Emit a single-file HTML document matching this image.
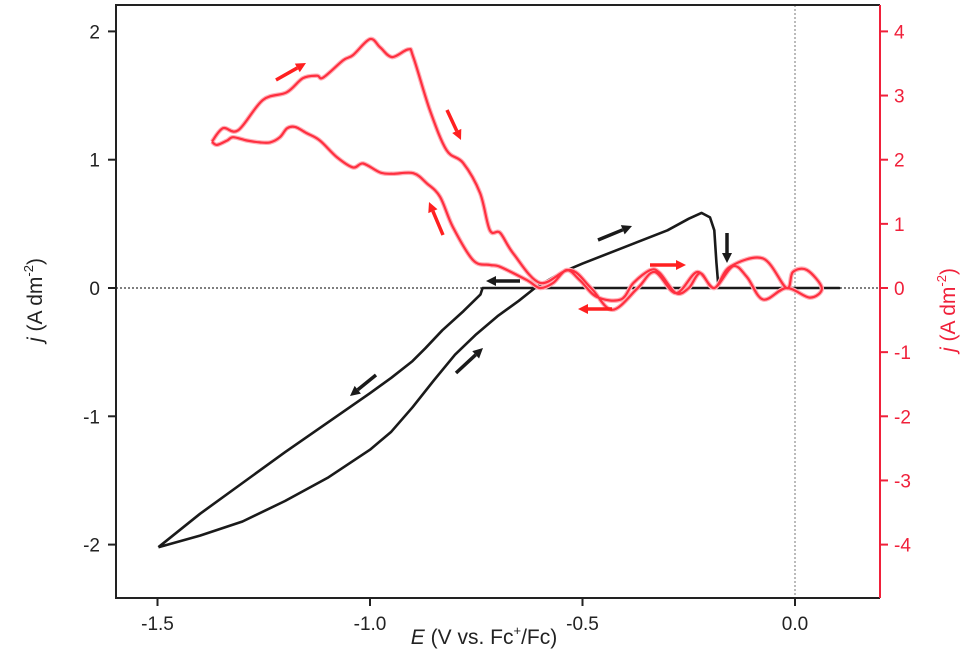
<!DOCTYPE html>
<html><head><meta charset="utf-8"><style>
body{margin:0;background:#fff;}
svg{display:block;font-family:"Liberation Sans",Arial,sans-serif;}
</style></head><body>
<svg id="chart" width="968" height="666" viewBox="0 0 968 666">
<g id="axes"></g>
<g id="plot"></g>
<g id="ann"></g>
</svg>
<script>
const xTicks=[-1.5,-1.0,-0.5,0.0];
const xTickLabels=["-1.5","-1.0","-0.5","0.0"];
const yTicks=[-2,-1,0,1,2];
const yTickLabels=["-2","-1","0","1","2"];
const y2Ticks=[-4,-3,-2,-1,0,1,2,3,4];
const y2TickLabels=["-4","-3","-2","-1","0","1","2","3","4"];
const blackE=[-1.498,-1.40,-1.30,-1.20,-1.10,-1.0,-0.95,-0.90,-0.85,-0.80,-0.75,-0.70,-0.65,-0.612,-0.55,-0.5,-0.4,-0.3,-0.25,-0.22,-0.20,-0.19,-0.185,-0.18,0.104,-0.735,-0.74,-0.78,-0.83,-0.87,-0.90,-0.95,-1.0,-1.1,-1.2,-1.3,-1.4,-1.498];
const blackJ=[-2.02,-1.93,-1.82,-1.66,-1.48,-1.26,-1.12,-0.93,-0.72,-0.52,-0.36,-0.22,-0.10,0,0.12,0.19,0.32,0.45,0.54,0.585,0.55,0.45,0.2,0,0,0,-0.05,-0.18,-0.33,-0.47,-0.57,-0.70,-0.82,-1.05,-1.28,-1.52,-1.76,-2.02];
const redE=[-1.372,-1.346,-1.31,-1.252,-1.196,-1.158,-1.125,-1.11,-1.063,-1.04,-1.0,-0.976,-0.948,-0.91,-0.898,-0.859,-0.82,-0.781,-0.741,-0.718,-0.694,-0.663,-0.6,-0.53,-0.48,-0.43,-0.37,-0.33,-0.28,-0.23,-0.19,-0.153,-0.075,-0.02,-0.005,0.028,0.063,0.035,-0.02,-0.075,-0.113,-0.146,-0.19,-0.223,-0.25,-0.28,-0.318,-0.34,-0.38,-0.41,-0.466,-0.506,-0.537,-0.569,-0.6,-0.63,-0.694,-0.718,-0.757,-0.805,-0.835,-0.866,-0.898,-0.946,-0.976,-1.016,-1.04,-1.078,-1.118,-1.148,-1.176,-1.195,-1.212,-1.235,-1.259,-1.29,-1.322,-1.336,-1.36,-1.372];
const redJ=[2.28,2.49,2.46,2.93,3.05,3.27,3.31,3.28,3.55,3.63,3.88,3.75,3.6,3.72,3.6,2.77,2.15,1.95,1.48,0.9,0.86,0.54,0.08,0.28,0,-0.34,0,0.25,-0.08,0.25,0,0.33,0.46,0,0.25,0.28,0,-0.15,0,-0.18,0.17,0.34,0,0.23,0,-0.08,0.23,0.28,0.08,-0.18,-0.14,0.12,0.28,0.08,0,0.12,0.33,0.36,0.43,0.95,1.42,1.63,1.79,1.78,1.8,1.94,1.88,2.04,2.3,2.41,2.51,2.49,2.35,2.27,2.27,2.3,2.35,2.3,2.23,2.28];

const L=116,R=880,T=5,B=598;
const xs=e=>795+e*425;
const ys=j=>288-j*128.3;
const ys2=j=>288-j*64.15;
const NS="http://www.w3.org/2000/svg";
function mk(tag,attrs,parent){const el=document.createElementNS(NS,tag);for(const k in attrs)el.setAttribute(k,attrs[k]);parent.appendChild(el);return el;}
function smooth(pts){let d='M'+pts[0][0].toFixed(1)+','+pts[0][1].toFixed(1);
 for(let i=0;i<pts.length-1;i++){const p0=pts[Math.max(i-1,0)],p1=pts[i],p2=pts[i+1],p3=pts[Math.min(i+2,pts.length-1)];
 const c1=[p1[0]+(p2[0]-p0[0])/6,p1[1]+(p2[1]-p0[1])/6],c2=[p2[0]-(p3[0]-p1[0])/6,p2[1]-(p3[1]-p1[1])/6];
 d+=`C${c1[0].toFixed(1)},${c1[1].toFixed(1)} ${c2[0].toFixed(1)},${c2[1].toFixed(1)} ${p2[0].toFixed(1)},${p2[1].toFixed(1)}`;}
 return d;}
const axes=document.getElementById('axes'),plot=document.getElementById('plot'),ann=document.getElementById('ann');

let el;
el=mk('line',{x1:L,y1:ys(0),x2:R,y2:ys(0),stroke:'#333','stroke-width':1.2,'stroke-dasharray':'2,2'},axes);


el=mk('line',{x1:xs(0),y1:T,x2:xs(0),y2:B,stroke:'#777','stroke-width':1,'stroke-dasharray':'2,2'},axes);


el=mk('path',{d:`M${R},${T}H${L}V${B}H${R}`,fill:'none',stroke:'#222','stroke-width':2},axes);


el=mk('line',{x1:R,y1:T,x2:R,y2:B,stroke:'#f0203a','stroke-width':2},axes);



xTicks.forEach((v,i)=>{
 el=mk('line',{x1:xs(v),y1:B,x2:xs(v),y2:B+8,stroke:'#222','stroke-width':2},axes);
 
 
 el=mk('text',{x:xs(v),y:B+32,'text-anchor':'middle','font-size':19,fill:'#222'},axes);
 el.textContent=xTickLabels[i];
 
 
});
yTicks.forEach((v,i)=>{
 el=mk('line',{x1:L-8,y1:ys(v),x2:L,y2:ys(v),stroke:'#222','stroke-width':2},axes);
 
 
 el=mk('text',{x:L-16,y:ys(v)+7,'text-anchor':'end','font-size':19,fill:'#222'},axes);
 el.textContent=yTickLabels[i];
 
 
});
y2Ticks.forEach((v,i)=>{
 el=mk('line',{x1:R,y1:ys2(v),x2:R+8,y2:ys2(v),stroke:'#f0203a','stroke-width':2},axes);
 
 
 el=mk('text',{x:R+14,y:ys2(v)+7,'text-anchor':'start','font-size':19,fill:'#f0203a'},axes);
 el.textContent=y2TickLabels[i];
 
 
});

el=mk('text',{x:484,y:644,'text-anchor':'middle','font-size':21,fill:'#222'},axes);
el.innerHTML='<tspan font-style="italic">E</tspan> (V vs. Fc<tspan font-size="13" dy="-9">+</tspan><tspan dy="9">/Fc)</tspan>';


el=mk('text',{x:0,y:0,'text-anchor':'middle','font-size':21,fill:'#222',transform:'translate(42,300) rotate(-90)'},axes);
el.innerHTML='<tspan font-style="italic">j</tspan> (A dm<tspan font-size="13" dy="-9">-2</tspan><tspan dy="9">)</tspan>';


el=mk('text',{x:0,y:0,'text-anchor':'middle','font-size':21,fill:'#f0203a',transform:'translate(955,310) rotate(-90)'},axes);
el.innerHTML='<tspan font-style="italic">j</tspan> (A dm<tspan font-size="13" dy="-9">-2</tspan><tspan dy="9">)</tspan>';



let d=blackE.map((e,i)=>(i?'L':'M')+xs(e).toFixed(1)+','+ys(blackJ[i]).toFixed(1)).join('');
el=mk('path',{d:d,fill:'none',stroke:'#1a1a1a','stroke-width':2.6,'stroke-linejoin':'round'},plot);


d=smooth(redE.map((e,i)=>[xs(e),ys2(redJ[i])]));
el=mk('path',{d:d,fill:'none',stroke:'#ffb0b8','stroke-width':4.5,'stroke-linejoin':'round'},plot);


el=mk('path',{d:d,fill:'none',stroke:'#ff2f3f','stroke-width':2.2,'stroke-linejoin':'round'},plot);



const arrows=[[598,240,632,226,'#1a1a1a'],[727,233,727,263,'#1a1a1a'],[520,281,486,281,'#1a1a1a'],[376,375,350,396,'#1a1a1a'],[456,373,483,348,'#1a1a1a'],
[276,80,306,63,'#ff2020'],[447,110,461,140,'#ff2020'],[443,235,429,202,'#ff2020'],[650,265,686,265,'#ff2020'],[612,309,578,309,'#ff2020']];
arrows.forEach(a=>{
 const [x1,y1,x2,y2,c]=a;const ang=Math.atan2(y2-y1,x2-x1);const h=10,w=5;
 const bx=x2-h*Math.cos(ang),by=y2-h*Math.sin(ang);
 const g=mk('g',{},ann);
 
 
 mk('line',{x1:x1,y1:y1,x2:bx,y2:by,stroke:c,'stroke-width':3.5},g);
 mk('polygon',{points:`${x2},${y2} ${bx-w*Math.sin(ang)},${by+w*Math.cos(ang)} ${bx+w*Math.sin(ang)},${by-w*Math.cos(ang)}`,fill:c},g);
});
</script>
</body></html>
